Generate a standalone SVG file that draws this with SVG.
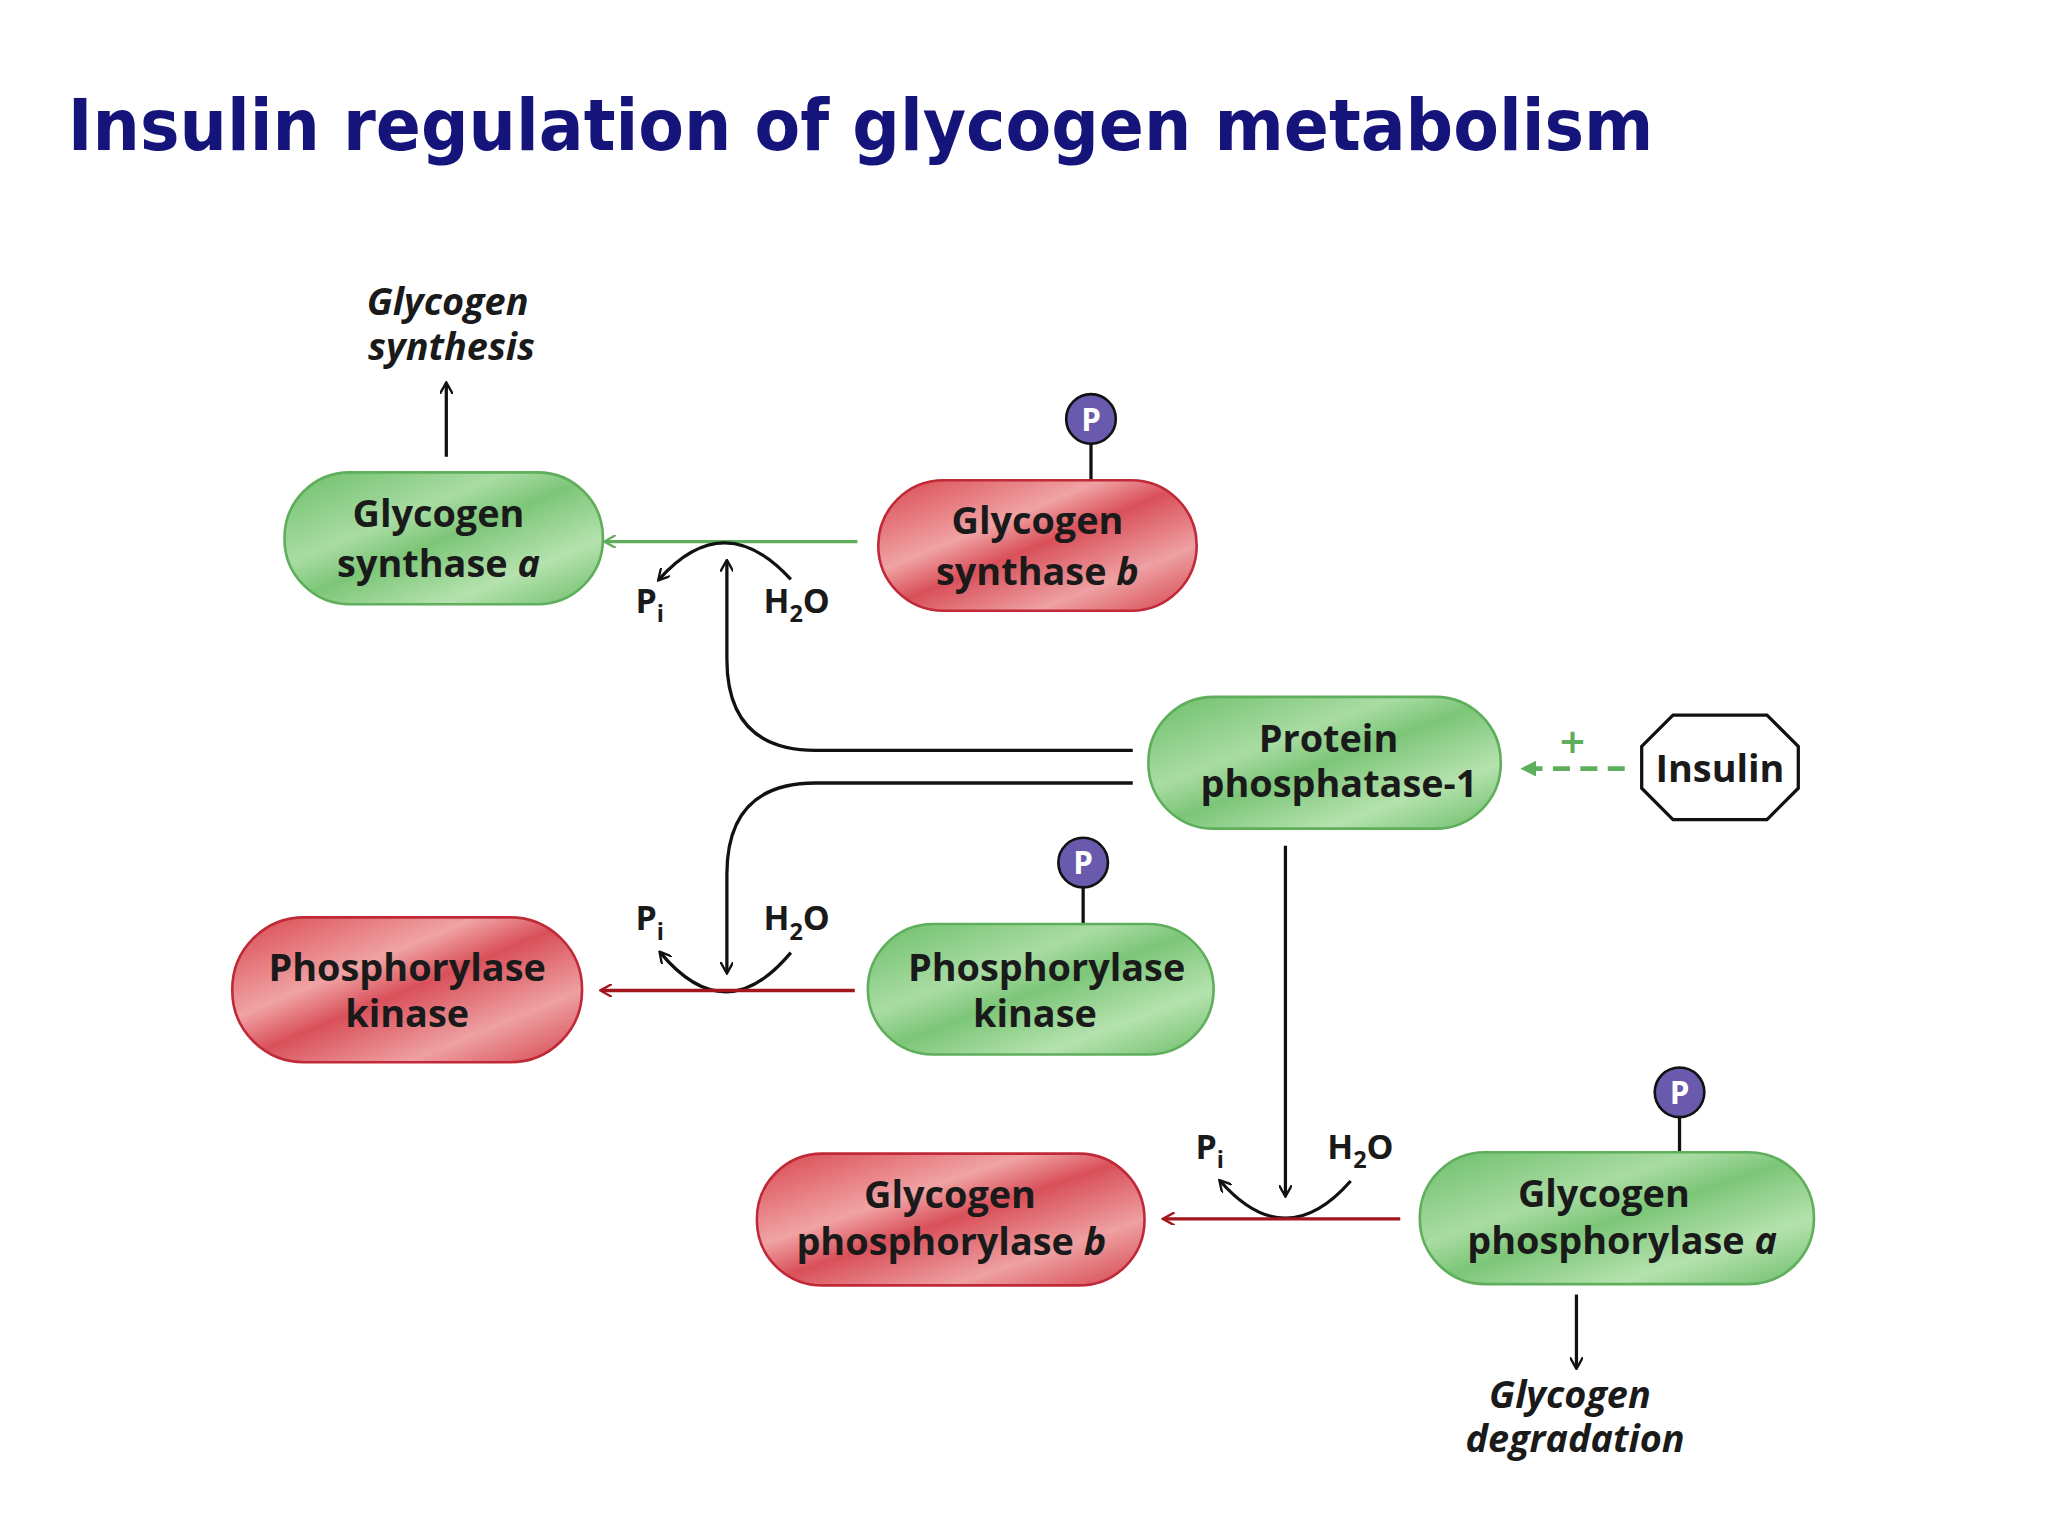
<svg xmlns="http://www.w3.org/2000/svg" width="2048" height="1536" viewBox="0 0 2048 1536">
<defs>
<linearGradient id="gg" x1="0" y1="0" x2="1" y2="1">
<stop offset="0" stop-color="#6cbf6a"/><stop offset="0.35" stop-color="#a9dca3"/><stop offset="0.5" stop-color="#7cc678"/><stop offset="0.75" stop-color="#b5e2ae"/><stop offset="1" stop-color="#6bbd68"/>
</linearGradient>
<linearGradient id="rg" x1="0" y1="0" x2="1" y2="1">
<stop offset="0" stop-color="#d9464f"/><stop offset="0.35" stop-color="#f0a3a4"/><stop offset="0.5" stop-color="#d9505a"/><stop offset="0.75" stop-color="#eea0a2"/><stop offset="1" stop-color="#d4434c"/>
</linearGradient>
<marker id="ak" markerWidth="10" markerHeight="10" refX="8" refY="5" orient="auto" markerUnits="userSpaceOnUse"><path d="M0,0 L9,5 L0,10" fill="none" stroke="#111" stroke-width="1.8"/></marker>
<marker id="ag" markerWidth="10" markerHeight="10" refX="8" refY="5" orient="auto" markerUnits="userSpaceOnUse"><path d="M0,0 L9,5 L0,10" fill="none" stroke="#5fae5c" stroke-width="1.8"/></marker>
<marker id="ar" markerWidth="10" markerHeight="10" refX="8" refY="5" orient="auto" markerUnits="userSpaceOnUse"><path d="M0,0 L9,5 L0,10" fill="none" stroke="#a3161c" stroke-width="1.8"/></marker>
<marker id="agf" markerWidth="14" markerHeight="12" refX="10" refY="6" orient="auto" markerUnits="userSpaceOnUse"><path d="M0,0 L12,6 L0,12 Z" fill="#5fae5c"/></marker>
</defs>
<style>
.g{fill:url(#gg);stroke:#5fae5c;stroke-width:2}
.r{fill:url(#rg);stroke:#c02a38;stroke-width:2}
.t{font-family:"Open Sans","DejaVu Sans",sans-serif;font-weight:bold;font-size:29px;fill:#1a1a1a;text-anchor:middle}
.i{font-style:italic}
.s{font-family:"Open Sans","DejaVu Sans",sans-serif;font-weight:bold;font-size:26px;fill:#1a1a1a}
.k{fill:none;stroke:#111;stroke-width:2.5}
.pc{fill:#6a5aad;stroke:#111;stroke-width:2}
.pt{font-family:"Open Sans","DejaVu Sans",sans-serif;font-weight:bold;font-size:24px;fill:#fff;text-anchor:middle}
</style>
<rect width="2048" height="1536" fill="#fff"/>
<g transform="scale(1.305)">
<text x="52" y="115" font-family="DejaVu Sans, sans-serif" font-weight="bold" font-size="54" fill="#14147a" textLength="1215" lengthAdjust="spacingAndGlyphs">Insulin regulation of glycogen metabolism</text>

<g id="connectors">
<path class="k" d="M342,350 L342,294" marker-end="url(#ak)"/>
<path d="M657,415 L464,415" stroke="#5fae5c" stroke-width="2.5" fill="none" marker-end="url(#ag)"/>
<path class="k" d="M606,444 Q555,388 505,444" marker-end="url(#ak)"/>
<path class="k" d="M868,575 L625,575 Q557,575 557,505 L557,430" marker-end="url(#ak)"/>
<path class="k" d="M868,600 L625,600 Q557,600 557,670 L557,745" marker-end="url(#ak)"/>
<path class="k" d="M606,730 Q556,790 506,730" marker-end="url(#ak)"/>
<path d="M655,759 L461,759" stroke="#a3161c" stroke-width="2.5" fill="none" marker-end="url(#ar)"/>
<path class="k" d="M985,648 L985,916" marker-end="url(#ak)"/>
<path class="k" d="M1035,905 Q985,962 935,905" marker-end="url(#ak)"/>
<path d="M1073,934 L892,934" stroke="#a3161c" stroke-width="2.5" fill="none" marker-end="url(#ar)"/>
<path class="k" d="M1208,992 L1208,1048" marker-end="url(#ak)"/>
<path d="M1245,589 L1167,589" stroke="#5fae5c" stroke-width="3.5" stroke-dasharray="13,8" fill="none" marker-end="url(#agf)"/>
<text x="1205" y="577" font-family="DejaVu Sans, sans-serif" font-weight="bold" font-size="26" fill="#5fae5c" text-anchor="middle">+</text>
<text class="s" x="487" y="470">P<tspan font-size="18" dy="7">i</tspan></text>
<text class="s" x="585" y="470">H<tspan font-size="18" dy="7">2</tspan><tspan dy="-7">O</tspan></text>
<text class="s" x="487" y="713">P<tspan font-size="18" dy="7">i</tspan></text>
<text class="s" x="585" y="713">H<tspan font-size="18" dy="7">2</tspan><tspan dy="-7">O</tspan></text>
<text class="s" x="916" y="888">P<tspan font-size="18" dy="7">i</tspan></text>
<text class="s" x="1017" y="888">H<tspan font-size="18" dy="7">2</tspan><tspan dy="-7">O</tspan></text>
<text class="t i" x="343" y="241">Glycogen</text>
<text class="t i" x="346" y="276">synthesis</text>
<text class="t i" x="1203" y="1079">Glycogen</text>
<text class="t i" x="1207" y="1113">degradation</text>
</g>

<g id="gsa"><rect class="g" x="218" y="362" width="244" height="101" rx="50"/>
<text class="t" x="336" y="404">Glycogen</text><text class="t" x="336" y="442">synthase <tspan class="i">a</tspan></text></g>

<g id="gsb"><line x1="836" y1="340" x2="836" y2="368" stroke="#111" stroke-width="2.5"/><circle class="pc" cx="836" cy="321" r="19"/><text class="pt" x="836" y="330">P</text>
<rect class="r" x="673" y="368" width="244" height="100" rx="50"/>
<text class="t" x="795" y="409">Glycogen</text><text class="t" x="795" y="448">synthase <tspan class="i">b</tspan></text></g>

<g id="pp1"><rect class="g" x="880" y="534" width="270" height="101" rx="50"/>
<text class="t" x="1018" y="576">Protein</text><text class="t" x="1026" y="611">phosphatase-1</text></g>

<g id="insulin"><polygon points="1282,548 1354,548 1378,572 1378,604 1354,628 1282,628 1258,604 1258,572" fill="#fff" stroke="#111" stroke-width="2.5"/>
<text class="t" x="1318" y="599">Insulin</text></g>

<g id="pkr"><rect class="r" x="178" y="703" width="268" height="111" rx="55"/>
<text class="t" x="312" y="752">Phosphorylase</text><text class="t" x="312" y="787">kinase</text></g>

<g id="pkg"><line x1="830" y1="680" x2="830" y2="708" stroke="#111" stroke-width="2.5"/><circle class="pc" cx="830" cy="661" r="19"/><text class="pt" x="830" y="670">P</text>
<rect class="g" x="665" y="708" width="265" height="100" rx="50"/>
<text class="t" x="802" y="752">Phosphorylase</text><text class="t" x="793" y="787">kinase</text></g>

<g id="gpb"><rect class="r" x="580" y="884" width="297" height="101" rx="50"/>
<text class="t" x="728" y="926">Glycogen</text><text class="t" x="729" y="962">phosphorylase <tspan class="i">b</tspan></text></g>

<g id="gpa"><line x1="1287" y1="856" x2="1287" y2="883" stroke="#111" stroke-width="2.5"/><circle class="pc" cx="1287" cy="837" r="19"/><text class="pt" x="1287" y="846">P</text>
<rect class="g" x="1088" y="883" width="302" height="101" rx="50"/>
<text class="t" x="1229" y="925">Glycogen</text><text class="t" x="1243" y="961">phosphorylase <tspan class="i">a</tspan></text></g>
</g>
</svg>
